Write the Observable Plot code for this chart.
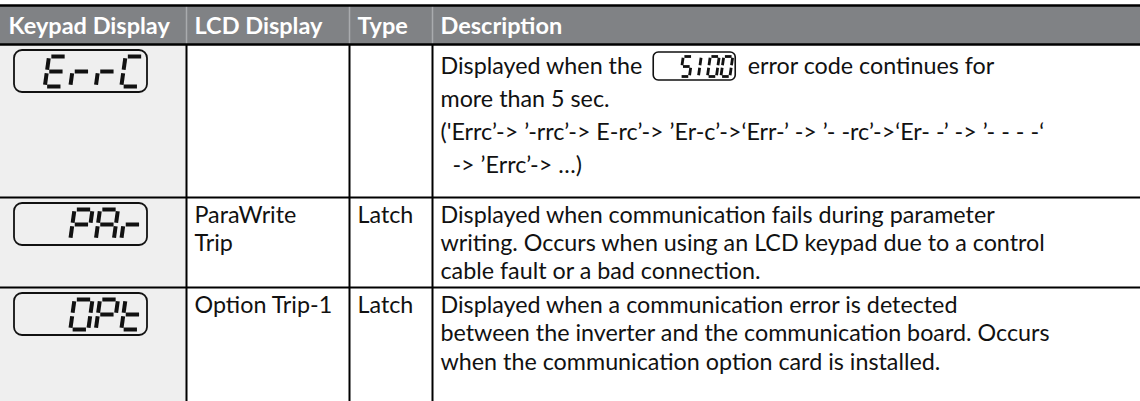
<!DOCTYPE html>
<html><head><meta charset="utf-8">
<script src="https://cdn.jsdelivr.net/npm/d3@7"></script>
<script src="https://cdn.jsdelivr.net/npm/@observablehq/plot@0.6"></script>
<style>body{margin:0;background:#fff}#chart svg{display:block}</style>
</head><body><div id="chart"></div>
<script>
// ---- data ----
const headers = ["Keypad Display", "LCD Display", "Type", "Description"];
const keypadCodes = ["ErrC", "PAr", "OPt"];
const lcdNames = [[], ["ParaWrite", "Trip"], ["Option Trip-1"]];
const tripTypes = ["", "Latch", "Latch"];
const descLines = [
  ["Displayed when the", "more than 5 sec.", "('Errc’-> ’-rrc’-> E-rc’-> ’Er-c’->‘Err-’ -> ’- -rc’->‘Er- -’ -> ’- - - -‘", "  -> ’Errc’-> …)"],
  ["Displayed when communication fails during parameter", "writing. Occurs when using an LCD keypad due to a control", "cable fault or a bad connection."],
  ["Displayed when a communication error is detected", "between the inverter and the communication board. Occurs", "when the communication option card is installed."]
];
const inlineCode = "5100";
const inlineAfter = "error code continues for";

// ---- layout ----
const W = 1140, H = 401;
const colEdges = [0, 186, 349, 432, W];
const headerTop = 6, headerBottom = 44;
const rowEdges = [44, 197, 287, H];
const rowFirst = [22, 18, 18];
const rowGap = [33, 28, 28.5];
const pad = 8;
const bodyFont = "Lato", bodySize = 23.3;
const headFont = "Lato", headSize = 23.5;

const measure = (() => {
  const ctx = document.createElement("canvas").getContext("2d");
  return (t, f) => { ctx.font = f; return ctx.measureText(t).width; };
})();

// seven-segment glyph definitions
const SEG = {E: "adefg", r: "eg", C: "adef", P: "abefg", A: "abcefg", O: "abcdef", "0": "abcdef", t: "defg", "5": "acdfg", "1": "bc"};
const segUnit = {a: [[0,0],[1,0]], b: [[1,0],[1,.5]], c: [[1,.5],[1,1]], d: [[0,1],[1,1]], e: [[0,.5],[0,1]], f: [[0,0],[0,.5]], g: [[0,.5],[1,.5]]};
function segments(str, slots, right, top, w, h, pitch, sw) {
  const out = [];
  const chars = str.split("");
  const start = slots - chars.length;
  chars.forEach((ch, k) => {
    const i = start + k;
    const left = right - (slots - i) * pitch + (pitch - w - h * 0.14);
    for (const s of SEG[ch]) {
      let [[u1, v1], [u2, v2]] = segUnit[s];
      if (u1 === u2) { v1 += 0.06; v2 -= 0.06; } else { u1 += 0.13; u2 -= 0.13; }
      // narrow glyph "1" sits in the middle of its cell
      if (ch === "1") { u1 -= 0.5; u2 -= 0.5; }
      const P = (u, v) => [left + u * w + (1 - v) * h * 0.14, top + v * h];
      const [xa, ya] = P(u1, v1), [xb, yb] = P(u2, v2);
      out.push({x1: xa, y1: ya, x2: xb, y2: yb, sw});
    }
  });
  return out;
}

// header cells
const headerTexts = headers.map((t, i) => ({x: colEdges[i] + pad, y: (headerTop + headerBottom) / 2 + 1, t}));

// body texts
const bodyTexts = [];
rowEdges.slice(0, 3).forEach((top, r) => {
  lcdNames[r].forEach((t, i) => bodyTexts.push({x: colEdges[1] + pad, y: top + rowFirst[r] + i * rowGap[r], t}));
  if (tripTypes[r]) bodyTexts.push({x: colEdges[2] + pad, y: top + rowFirst[r], t: tripTypes[r]});
  descLines[r].forEach((t, i) => bodyTexts.push({x: colEdges[3] + pad, y: top + rowFirst[r] + i * rowGap[r], t}));
});

// inline display box in row 1
const fontStr = `${bodySize}px ${bodyFont}`;
const firstW = measure(descLines[0][0], fontStr);
const ib = {x1: colEdges[3] + pad + firstW + 11, y1: rowEdges[0] + 8, y2: rowEdges[0] + 36};
ib.x2 = ib.x1 + 82;
bodyTexts.push({x: ib.x2 + 12, y: rowEdges[0] + rowFirst[0], t: inlineAfter});

// keypad boxes
const boxes = rowEdges.slice(0, 3).map(top => ({x1: 14, x2: 147, y1: top + 6, y2: top + 48}));
let segs = [];
boxes.forEach((b, r) => { segs = segs.concat(segments(keypadCodes[r], 4, b.x2 - 4, b.y1 + 6, 18, 30, 25.5, 4)); });
segs = segs.concat(segments(inlineCode, 4, ib.x2 - 3, ib.y1 + 4, 9, 20, 13.5, 2.8));

const rowLines = rowEdges.slice(1, 3);

const chart = Plot.plot({
  width: W, height: H, margin: 0,
  x: {domain: [0, W], range: [0, W], axis: null},
  y: {domain: [0, H], range: [0, H], axis: null},
  style: {background: "#fff"},
  marks: [
    Plot.rect([{x1: 0, x2: colEdges[1], y1: headerBottom, y2: H}], {x1: "x1", x2: "x2", y1: "y1", y2: "y2", fill: "#efefef"}),
    Plot.rect([{x1: 0, x2: W, y1: headerTop, y2: headerBottom}], {x1: "x1", x2: "x2", y1: "y1", y2: "y2", fill: "#808285"}),
    Plot.ruleX(colEdges.slice(1, 4), {y1: headerTop, y2: headerBottom, stroke: "#a9abae", strokeWidth: 1.5}),
    Plot.ruleX(colEdges.slice(1, 4), {y1: headerBottom, y2: H, stroke: "#000", strokeWidth: 2}),
    Plot.ruleY([headerTop - 1], {x1: 0, x2: W, stroke: "#000", strokeWidth: 2.5}),
    Plot.ruleY([headerBottom], {x1: 0, x2: W, stroke: "#000", strokeWidth: 2.5}),
    Plot.ruleY(rowLines, {x1: 0, x2: W, stroke: "#000", strokeWidth: 2}),
    Plot.text(headerTexts, {x: "x", y: "y", text: "t", textAnchor: "start", fill: "#fff", fontFamily: headFont, fontWeight: "bold", fontSize: headSize}),
    Plot.text(bodyTexts, {x: "x", y: "y", text: "t", textAnchor: "start", fill: "#111", fontFamily: bodyFont, fontSize: bodySize}),
    Plot.rect(boxes, {x1: "x1", x2: "x2", y1: "y1", y2: "y2", rx: 8, fill: "none", stroke: "#111", strokeWidth: 1.8}),
    Plot.rect([ib], {x1: "x1", x2: "x2", y1: "y1", y2: "y2", rx: 5, fill: "none", stroke: "#111", strokeWidth: 1.6}),
    Plot.link(segs.filter(d => d.sw > 3), {x1: "x1", y1: "y1", x2: "x2", y2: "y2", stroke: "#111", strokeWidth: 4}),
    Plot.link(segs.filter(d => d.sw <= 3), {x1: "x1", y1: "y1", x2: "x2", y2: "y2", stroke: "#111", strokeWidth: 2.8})
  ]
});
document.getElementById("chart").append(chart);
</script></body></html>
